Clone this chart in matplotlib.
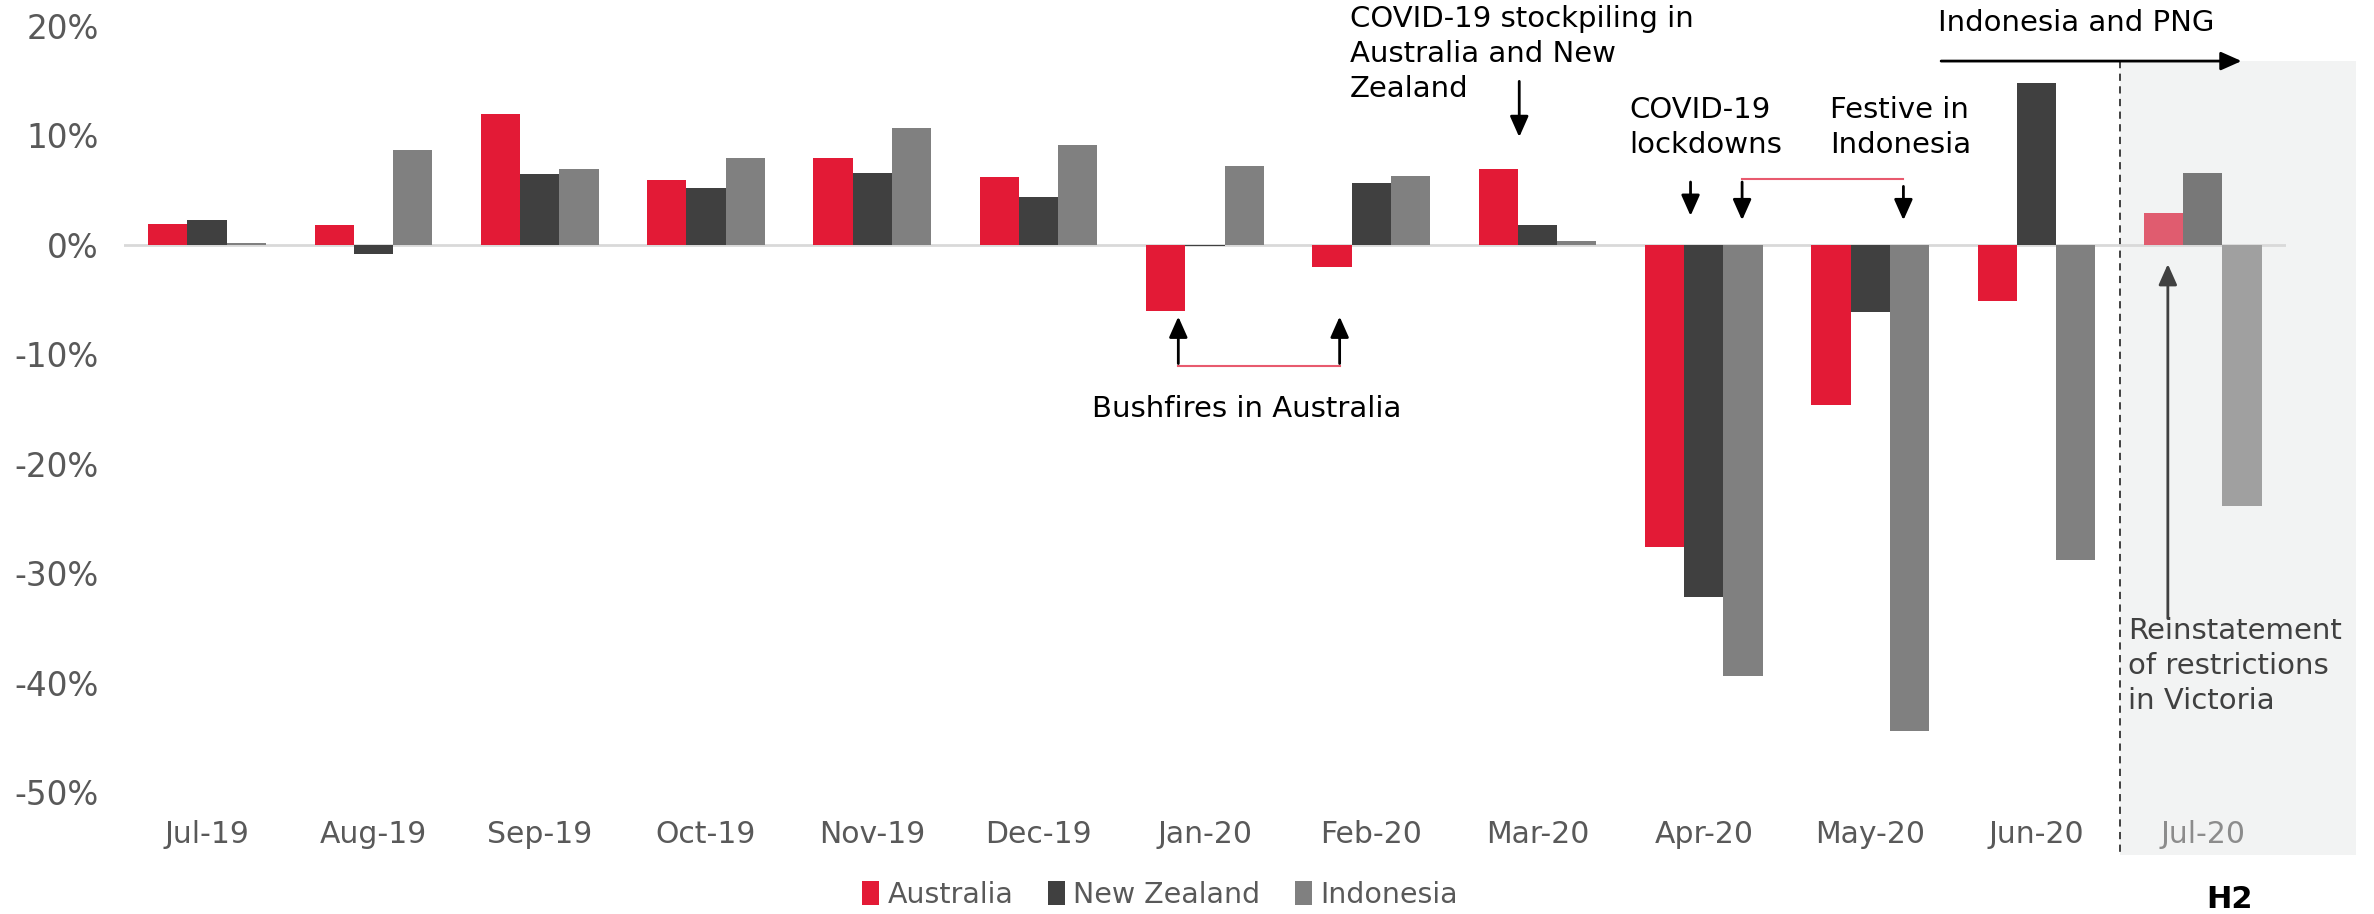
import numpy as np
import matplotlib.pyplot as plt
from matplotlib.patches import Rectangle

plt.rcParams['axes.unicode_minus'] = False
plt.rcParams['font.family'] = 'DejaVu Sans'

months = ["Jul-19", "Aug-19", "Sep-19", "Oct-19", "Nov-19", "Dec-19", "Jan-20",
          "Feb-20", "Mar-20", "Apr-20", "May-20", "Jun-20", "Jul-20"]
australia = [1.9, 1.8, 12.0, 5.9, 7.9, 6.2, -6.0, -2.0, 6.9, -27.6, -14.6, -5.1, 2.9]
new_zealand = [2.3, -0.8, 6.5, 5.2, 6.6, 4.4, -0.1, 5.7, 1.8, -32.2, -6.1, 14.8, 6.6]
indonesia = [0.2, 8.7, 6.9, 7.9, 10.7, 9.1, 7.2, 6.3, 0.4, -39.4, -44.4, -28.8, -23.9]
y_ticks = [20, 10, 0, -10, -20, -30, -40, -50]

red, dark, grey = "#e31a36", "#404040", "#808080"
red_l, dark_l, grey_l = "#e05c6f", "#787878", "#a0a0a0"
txt = "#595959"

fig = plt.figure(figsize=(23.74, 9.14), dpi=100)
ax = fig.add_axes([0.0522, 0.1335, 0.9107, 0.838])

x = np.arange(len(months))
w = 0.236
n = len(months) - 1

# shaded H2 region and divider
ax.add_patch(Rectangle((11.5, -55.8), 1.42, 72.6, facecolor="#f2f3f3",
                       edgecolor="none", clip_on=False, zorder=0))
ax.plot([11.5, 11.5], [16.8, -55.8], ls=(0, (4, 3)), color="#333333", lw=1.3,
        clip_on=False, zorder=1)

ax.axhline(0, color="#d9d9d9", lw=2, zorder=1)

ax.bar(x[:n] - w, australia[:n], w, color=red, label="Australia", zorder=2)
ax.bar(x[:n], new_zealand[:n], w, color=dark, label="New Zealand", zorder=2)
ax.bar(x[:n] + w, indonesia[:n], w, color=grey, label="Indonesia", zorder=2)
ax.bar(x[n] - w, australia[n], w, color=red_l, zorder=2)
ax.bar(x[n], new_zealand[n], w, color=dark_l, zorder=2)
ax.bar(x[n] + w, indonesia[n], w, color=grey_l, zorder=2)

ax.set_xlim(-0.5, 12.5)
ax.set_ylim(-50, 20)
ax.set_yticks(y_ticks)
ax.set_yticklabels([f"{t}%" for t in y_ticks], color=txt, fontsize=23.5)
ax.set_xticks(x)
ax.set_xticklabels(months, color=txt, fontsize=21.5)
ax.get_xticklabels()[-1].set_color("#8c8c8c")
ax.tick_params(length=0)
ax.tick_params(axis="y", pad=18)
ax.tick_params(axis="x", pad=20)
for s in ax.spines.values():
    s.set_visible(False)

arr = dict(arrowstyle="-|>,head_width=0.4,head_length=0.9", color="black", lw=2,
           mutation_scale=14)
fs = 21
ls = 1.32

# bushfires
for xa in [5.84, 6.81]:
    ax.annotate("", xy=(xa, -6.3), xytext=(xa, -11.1), arrowprops=arr)
ax.plot([5.84, 6.81], [-11.1, -11.1], color="#e85a6e", lw=1.5)
ax.text(6.25, -15.0, "Bushfires in Australia", ha="center", va="center", fontsize=fs)

# stockpiling
ax.text(6.87, 21.9, "COVID-19 stockpiling in\nAustralia and New\nZealand", ha="left",
        va="top", fontsize=fs, linespacing=ls, clip_on=False)
ax.annotate("", xy=(7.89, 9.6), xytext=(7.89, 15.2), arrowprops=arr, annotation_clip=False)

# lockdowns / festive
ax.text(8.55, 13.6, "COVID-19\nlockdowns", ha="left", va="top", fontsize=fs, linespacing=ls)
ax.annotate("", xy=(8.92, 2.4), xytext=(8.92, 6.0), arrowprops=arr)
ax.text(9.76, 13.6, "Festive in\nIndonesia", ha="left", va="top", fontsize=fs, linespacing=ls)
ax.annotate("", xy=(9.23, 2.0), xytext=(9.23, 6.0), arrowprops=arr)
ax.annotate("", xy=(10.2, 2.0), xytext=(10.2, 5.6), arrowprops=arr)
ax.plot([9.23, 10.2], [6.0, 6.0], color="#e85a6e", lw=1.5)

# top arrow
ax.annotate("", xy=(12.25, 16.8), xytext=(10.41, 16.8), arrowprops=arr, annotation_clip=False)
ax.text(10.41, 20.3, "Indonesia and PNG", ha="left", va="center", fontsize=fs, clip_on=False)

# Victoria
ax.annotate("", xy=(11.79, -1.5), xytext=(11.79, -34.4),
            arrowprops=dict(arrowstyle="-|>,head_width=0.4,head_length=0.9",
                            color="#404040", lw=2, mutation_scale=14))
ax.text(11.55, -34.0, "Reinstatement\nof restrictions\nin Victoria", ha="left", va="top",
        fontsize=fs, color="#404040", linespacing=ls)

leg = fig.legend(loc="center", bbox_to_anchor=(0.4886, 0.021), ncol=3, frameon=False,
                 fontsize=20.5, handlelength=0.6, handleheight=0.9, handletextpad=0.3,
                 columnspacing=1.2)
for t in leg.get_texts():
    t.set_color(txt)

fig.text(0.939, 0.016, "H2", fontsize=22, fontweight="bold", ha="center", va="center")

fig.savefig("out.png", dpi=100)
